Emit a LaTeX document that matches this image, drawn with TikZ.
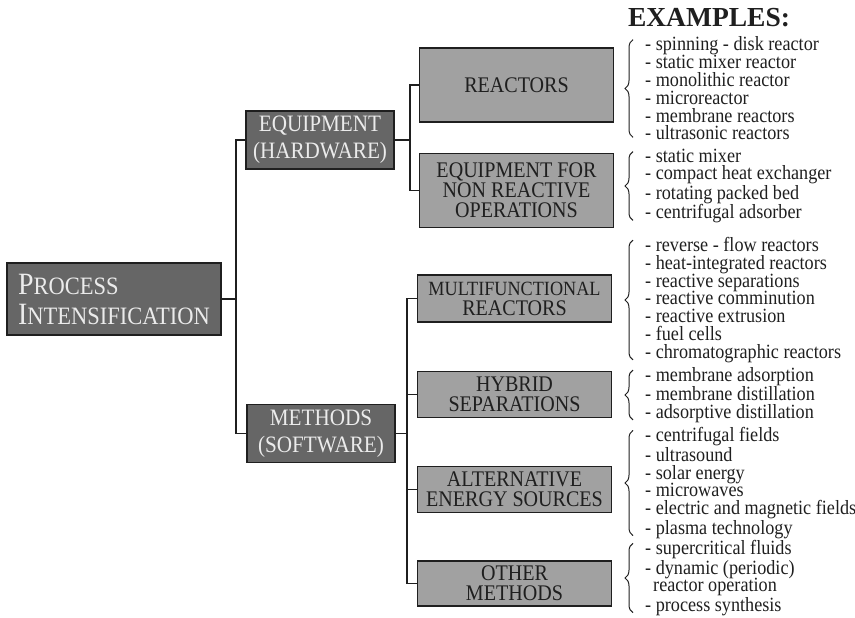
\documentclass[tikz,border=0pt]{standalone}
\usepackage{fontspec}
\setmainfont[FakeStretch=0.9]{Liberation Serif}
\newfontfamily\headfont{Liberation Serif}
\usetikzlibrary{positioning,calc,decorations.pathreplacing}

\definecolor{boxdark}{gray}{0.40}
\definecolor{boxlight}{gray}{0.63}
\definecolor{inkdark}{gray}{0.12}

% large first letter, smaller capitals after it
\newcommand{\capfirst}[2]{{\fontsize{31}{33}\selectfont #1}#2}

\tikzset{
    mainbox/.style={
        rectangle,                 % plain box
        draw=inkdark,              % dark frame
        line width=1.3pt,
        fill=boxdark,              % dark grey fill
        text=white!92!black,       % light text on dark fill
        align=center,
        inner sep=0pt
    },
    groupbox/.style={
        mainbox,
        minimum width=148pt,
        minimum height=58pt,
        font=\fontsize{23.5}{27}\selectfont
    },
    leafbox/.style={
        rectangle,
        draw=inkdark,
        line width=1.3pt,
        fill=boxlight,             % lighter grey for the second level
        text=inkdark,
        align=center,
        inner sep=0pt,
        minimum width=194pt,
        font=\fontsize{22.3}{20}\selectfont
    },
    examplelist/.style={
        anchor=west,
        align=left,
        inner sep=0pt,
        text=inkdark,
        font=\fontsize{20.2}{17.8}\selectfont
    },
    exbrace/.style={
        decorate,
        decoration={brace, amplitude=8pt},
        line width=1pt,
        draw=inkdark
    },
    branch/.style={line width=1.2pt, draw=inkdark}
}

\begin{document}
\begin{tikzpicture}[x=1pt, y=-1pt, node distance=48pt]
    \useasboundingbox (0,0) rectangle (855,618);

    % root and first level
    \node[mainbox, minimum width=214pt, minimum height=72pt, align=left,
          font=\fontsize{25}{30}\selectfont] (pi) at (114,299)
        {\capfirst{P}{ROCESS}\\\capfirst{I}{NTENSIFICATION}};
    \node[groupbox] (hw) at (320,140) {EQUIPMENT\\(HARDWARE)};
    \node[groupbox] (sw) at (321,433.5) {METHODS\\(SOFTWARE)};

    % second level
    \node[leafbox, minimum height=74pt] (reac) at (516.5,85) {REACTORS};
    \node[leafbox, minimum height=74pt, below=30pt of reac] (nonreac)
        {EQUIPMENT FOR\\NON REACTIVE\\OPERATIONS};
    \node[leafbox, minimum height=47pt] (multi) at (514.5,298.5)
        {{\fontsize{20.2}{20}\selectfont MULTIFUNCTIONAL}\\REACTORS};
    \node[leafbox, minimum height=46pt, below=of multi] (hybrid)
        {HYBRID\\SEPARATIONS};
    \node[leafbox, minimum height=46pt, below=of hybrid] (altern)
        {ALTERNATIVE\\ENERGY SOURCES};
    \node[leafbox, minimum height=45pt, below=47pt of altern] (other)
        {OTHER\\METHODS};

    % branch lines
    \coordinate (t1) at (236,0);
    \coordinate (t2) at (410,0);
    \coordinate (t3) at (407,0);
    \draw[branch] (pi.east) -- (pi.east -| t1);
    \draw[branch] (hw.west) -- (hw.west -| t1) |- (sw.west);
    \draw[branch] (hw.east) -- (hw.east -| t2);
    \draw[branch] (reac.west) -- (reac.west -| t2) |- (nonreac.west);
    \draw[branch] (sw.east) -- (sw.east -| t3);
    \draw[branch] (multi.west) -- (multi.west -| t3) |- (other.west);
    \draw[branch] (hybrid.west) -- (hybrid.west -| t3);
    \draw[branch] (altern.west) -- (altern.west -| t3);

    % examples
    \node[font=\headfont\fontsize{27.5}{28}\selectfont\bfseries, text=inkdark] (exhead) at (709,18) {EXAMPLES:};
    \node[examplelist] (ex1) at (645,88.5) {- spinning - disk reactor\\- static mixer reactor\\- monolithic reactor\\- microreactor\\- membrane reactors\\- ultrasonic reactors};
    \node[examplelist] (ex2) at (645,186) {- static mixer\\- compact heat exchanger\\- rotating packed bed\\- centrifugal adsorber};
    \node[examplelist] (ex3) at (645,300) {- reverse - flow reactors\\- heat-integrated reactors\\- reactive separations\\- reactive comminution\\- reactive extrusion\\- fuel cells\\- chromatographic reactors};
    \node[examplelist] (ex4) at (645,395) {- membrane adsorption\\- membrane distillation\\- adsorptive distillation};
    \node[examplelist] (ex5) at (645,483) {- centrifugal fields\\- ultrasound\\- solar energy\\- microwaves\\- electric and magnetic fields\\- plasma technology};
    \node[examplelist] (ex6) at (645,578) {- supercritical fluids\\- dynamic (periodic)\\\hspace*{8pt}reactor operation\\- process synthesis};

    \foreach \ex in {ex1,ex2,ex3,ex4,ex5,ex6}
        \draw[exbrace] ([shift={(-12,-3)}]\ex.south west) -- ([shift={(-12,3)}]\ex.north west);
\end{tikzpicture}
\end{document}
